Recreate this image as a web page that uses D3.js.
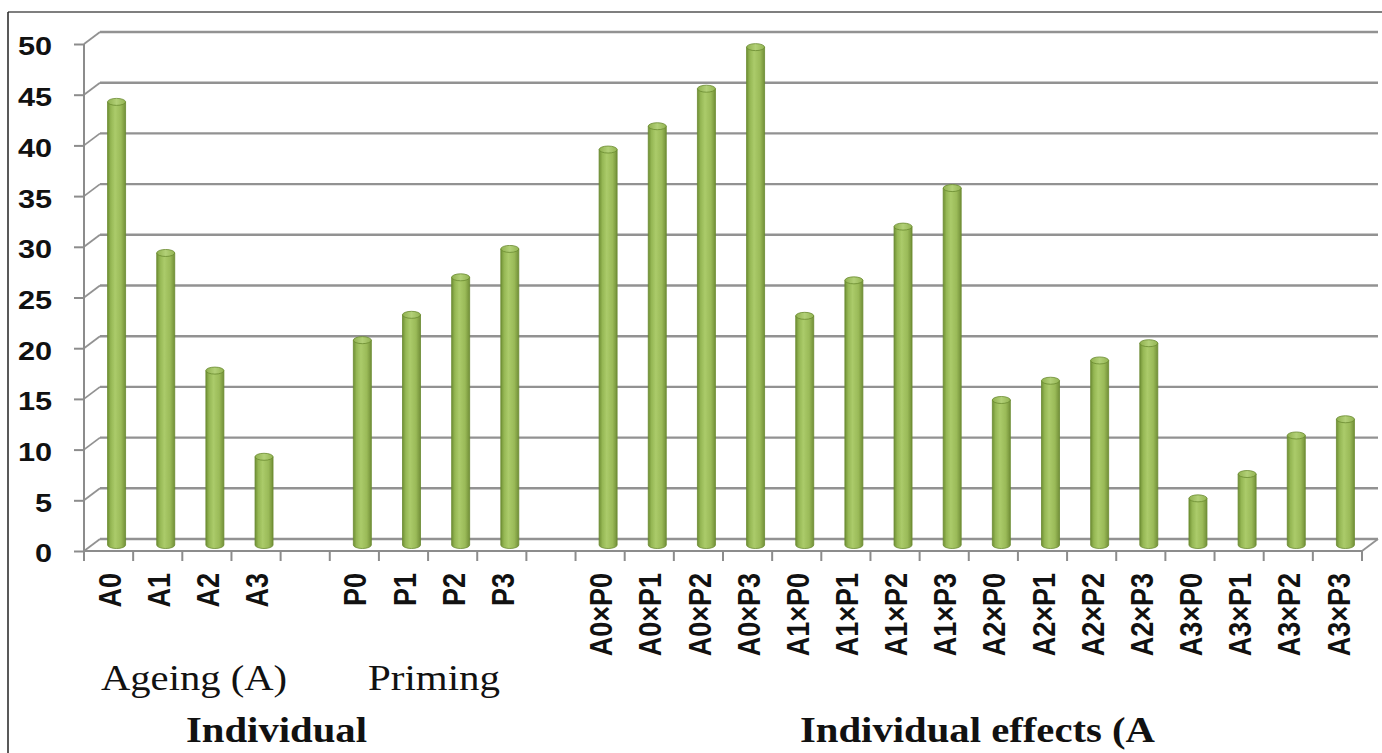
<!DOCTYPE html>
<html>
<head>
<meta charset="utf-8">
<script src="https://cdn.jsdelivr.net/npm/d3@7"></script>
<style>
  html, body { margin: 0; padding: 0; background: #fff; }
  svg { display: block; }
</style>
</head>
<body>
<svg id="chart" width="1382" height="753"></svg>
<script>
// Main effects and interaction means
const ageingLabels = ["A0", "A1", "A2", "A3"];
const ageingValues = [43.7, 28.8, 17.2, 8.7];
const primingLabels = ["P0", "P1", "P2", "P3"];
const primingValues = [20.2, 22.7, 26.4, 29.2];
const interactionLabels = [
  "A0×P0", "A0×P1", "A0×P2", "A0×P3",
  "A1×P0", "A1×P1", "A1×P2", "A1×P3",
  "A2×P0", "A2×P1", "A2×P2", "A2×P3",
  "A3×P0", "A3×P1", "A3×P2", "A3×P3"
];
const interactionValues = [
  39.0, 41.3, 45.0, 49.1,
  22.6, 26.1, 31.4, 35.2,
  14.3, 16.2, 18.2, 19.9,
  4.6, 7.0, 10.8, 12.4
];
const yTicks = [0, 5, 10, 15, 20, 25, 30, 35, 40, 45, 50];
const groupLabels = ["Ageing (A)", "Priming", "Individual", "Individual effects (A"];

// One slot per bar, with an empty slot between the groups
const slots = [];
ageingLabels.forEach((l, i) => slots.push({ key: "a" + i, label: l, value: ageingValues[i] }));
slots.push({ key: "gap1", label: "", value: null });
primingLabels.forEach((l, i) => slots.push({ key: "p" + i, label: l, value: primingValues[i] }));
slots.push({ key: "gap2", label: "", value: null });
interactionLabels.forEach((l, i) => slots.push({ key: "i" + i, label: l, value: interactionValues[i] }));

const svg = d3.select("#chart");

// Depth offsets of the pseudo-3D frame
const depth = { dx: 16, dy: -12 };
const mid = { dx: 8, dy: -6 };

const x = d3.scaleBand().domain(slots.map(d => d.key)).range([84, 1362]).paddingInner(0).paddingOuter(0);
const y = d3.scaleLinear().domain([0, 50]).range([551, 44]);

const x0 = x.range()[0], x1 = x.range()[1];

// Frame border (top and left)
svg.append("line").attr("x1", 8).attr("y1", 12).attr("x2", 1382).attr("y2", 12)
  .attr("stroke", "#555").attr("stroke-width", 1.5);
svg.append("line").attr("x1", 8).attr("y1", 12).attr("x2", 8).attr("y2", 753)
  .attr("stroke", "#222").attr("stroke-width", 1.5);

const defs = svg.append("defs");
const blur = defs.append("filter").attr("id", "soft").attr("x", "-5%").attr("y", "-5%").attr("width", "110%").attr("height", "110%");
blur.append("feGaussianBlur").attr("stdDeviation", 0.6);

const frame = svg.append("g").attr("filter", "url(#soft)");

// Back-wall gridlines with the diagonal left wall edges
yTicks.forEach(t => {
  frame.append("line")
    .attr("x1", x0 + depth.dx).attr("x2", x1 + depth.dx)
    .attr("y1", y(t) + depth.dy).attr("y2", y(t) + depth.dy)
    .attr("stroke", "#929292").attr("stroke-width", 2.4);
  frame.append("line")
    .attr("x1", x0).attr("y1", y(t))
    .attr("x2", x0 + depth.dx).attr("y2", y(t) + depth.dy)
    .attr("stroke", "#929292").attr("stroke-width", 1.8);
});

// Front value axis
const yAxis = d3.axisLeft(y).tickValues(yTicks).tickSize(10).tickPadding(22);
const yg = svg.append("g").attr("transform", `translate(${x0},0)`).call(yAxis);
yg.select(".domain").attr("stroke", "#8c8c8c").attr("stroke-width", 2).attr("d", `M0,${y(50)}V${y(0)}`);
yg.selectAll(".tick line").attr("stroke", "#8c8c8c").attr("stroke-width", 2);
yg.selectAll(".tick text")
  .attr("font-family", "Liberation Sans, Arial, sans-serif")
  .attr("font-weight", "bold").attr("font-size", 26).attr("fill", "#111")
  .attr("dy", "0.42em")
  .attr("transform", function () {
    const xx = +d3.select(this).attr("x");
    return `translate(${xx},0) scale(1.18,1) translate(${-xx},0)`;
  });

// Floor: front axis, right edge, back edge
frame.append("line").attr("x1", x1).attr("y1", y(0)).attr("x2", x1 + depth.dx).attr("y2", y(0) + depth.dy)
  .attr("stroke", "#929292").attr("stroke-width", 1.8);

const xAxis = d3.axisBottom(x).tickSize(0).tickFormat(() => "");
const xg = svg.append("g").attr("transform", `translate(0,${y(0)})`).call(xAxis);
xg.select(".domain").attr("stroke", "#8c8c8c").attr("stroke-width", 2).attr("d", `M${x0},0H${x1}`);
xg.selectAll(".tick").remove();

// Tick marks between categories
const bounds = slots.map(d => x(d.key)).concat([x1]);
xg.selectAll("line.sep").data(bounds).join("line").attr("class", "sep")
  .attr("x1", d => d).attr("x2", d => d).attr("y1", 0).attr("y2", 10)
  .attr("stroke", "#8c8c8c").attr("stroke-width", 2);

// Category labels, rotated
svg.append("g").selectAll("text").data(slots.filter(d => d.label)).join("text")
  .attr("transform", d => `translate(${x(d.key) + x.bandwidth() / 2 + 1},573) rotate(-90) scale(1,1.14)`)
  .attr("text-anchor", "end").attr("dy", "0.36em")
  .attr("font-family", "Liberation Sans, Arial, sans-serif")
  .attr("font-weight", "bold").attr("font-size", 27).attr("fill", "#111")
  .text(d => d.label);

// Cylinder bars
const grad = defs.append("linearGradient").attr("id", "cyl").attr("x1", "0").attr("x2", "1").attr("y1", "0").attr("y2", "0");
grad.append("stop").attr("offset", "0%").attr("stop-color", "#6f8f34");
grad.append("stop").attr("offset", "18%").attr("stop-color", "#95b754");
grad.append("stop").attr("offset", "42%").attr("stop-color", "#abcb6a");
grad.append("stop").attr("offset", "75%").attr("stop-color", "#9aba58");
grad.append("stop").attr("offset", "100%").attr("stop-color", "#728f38");

const topGrad = defs.append("linearGradient").attr("id", "cylTop").attr("x1", "0").attr("x2", "1").attr("y1", "0").attr("y2", "0");
topGrad.append("stop").attr("offset", "0%").attr("stop-color", "#8fb04e");
topGrad.append("stop").attr("offset", "50%").attr("stop-color", "#b2d077");
topGrad.append("stop").attr("offset", "100%").attr("stop-color", "#93b452");

const barW = 18, ry = 3.5;
const bars = svg.append("g").attr("filter", "url(#soft)")
  .selectAll("g").data(slots.filter(d => d.value !== null)).join("g")
  .attr("transform", d => `translate(${x(d.key) + x.bandwidth() / 2 + mid.dx},${mid.dy})`);

bars.append("path")
  .attr("d", d => {
    const yt = y(d.value), yb = y(0), h = barW / 2;
    return `M${-h},${yt}V${yb}A${h},${ry} 0 0 0 ${h},${yb}V${yt}Z`;
  })
  .attr("fill", "url(#cyl)").attr("stroke", "#6a8a30").attr("stroke-width", 0.8);

bars.append("ellipse")
  .attr("cx", 0).attr("cy", d => y(d.value)).attr("rx", barW / 2).attr("ry", ry)
  .attr("fill", "url(#cylTop)").attr("stroke", "#6a8a30").attr("stroke-width", 0.8);

// Group captions under the axis
const serif = "Liberation Serif, Times New Roman, serif";
const captions = [
  { text: groupLabels[0], x: 101, y: 690, w: 186, bold: false },
  { text: groupLabels[1], x: 368, y: 690, w: 132, bold: false },
  { text: groupLabels[2], x: 186, y: 742, w: 181, bold: true },
  { text: groupLabels[3], x: 800, y: 742, w: 355, bold: true }
];
svg.append("g").selectAll("text").data(captions).join("text")
  .attr("x", d => d.x).attr("y", d => d.y)
  .attr("font-family", serif).attr("font-size", 36)
  .attr("font-weight", d => d.bold ? "bold" : "normal")
  .attr("fill", "#111")
  .attr("textLength", d => d.w).attr("lengthAdjust", "spacingAndGlyphs")
  .text(d => d.text);
</script>
</body>
</html>
